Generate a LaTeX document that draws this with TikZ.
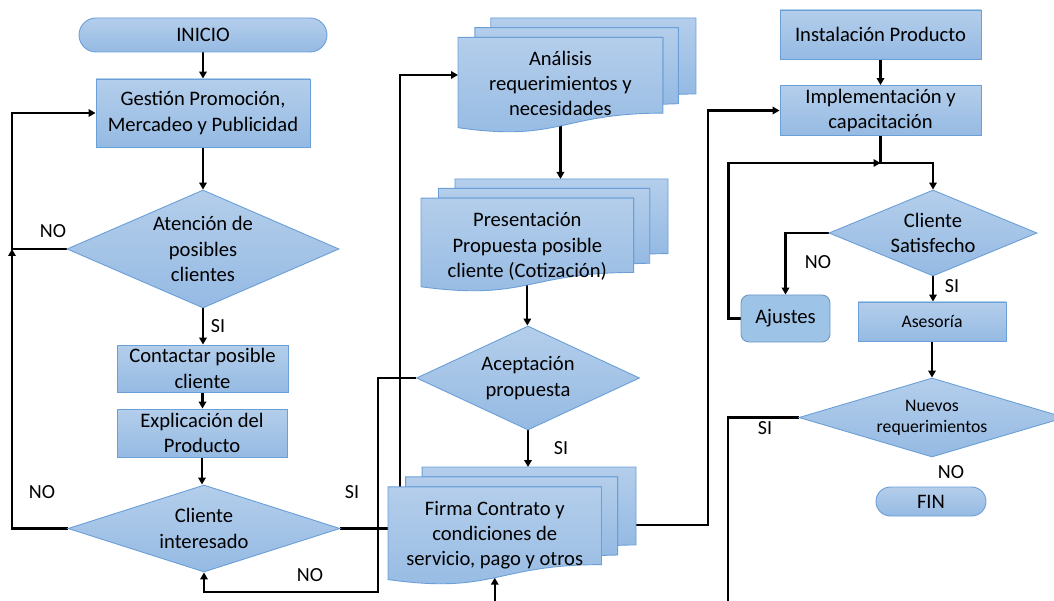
\documentclass[tikz,border=0pt]{standalone}
\usepackage{fontspec}
\setmainfont{Carlito}
\usetikzlibrary{shapes.geometric,arrows.meta,calc}
\definecolor{topc}{HTML}{B4CEEB}
\definecolor{botc}{HTML}{95BAE3}
\definecolor{bord}{HTML}{6A9FD8}
\definecolor{ajfill}{HTML}{9DC3E6}
\definecolor{ajbord}{HTML}{6F98C4}
\pgfdeclarelayer{bg}
\pgfsetlayers{bg,main}
\tikzset{
  base/.style={font=\fontsize{20.6}{25.3}\selectfont, align=center, inner sep=0pt},
  small/.style={font=\fontsize{17.7}{21.5}\selectfont},
  proc/.style={base, rectangle, draw=bord, line width=0.9pt, top color=topc, bottom color=botc},
  term/.style={proc, rounded corners=#1},
  dec/.style={base, diamond, draw=bord, line width=0.9pt, top color=topc, bottom color=botc},
  sheet/.style={draw=bord, line width=0.9pt, top color=topc, bottom color=botc},
  adj/.style={base, rectangle, rounded corners=8pt, draw=ajbord, line width=0.9pt, fill=ajfill},
  lbl/.style={font=\fontsize{20}{24}\selectfont, inner sep=0pt},
  conn/.style={draw=black, line width=2.3pt},
  arr/.style={conn, -{Triangle[length=7pt,width=7.5pt]}}
}
\newcommand\mdoc[7]{%
  \pgfmathsetmacro\mdsx{#4/216}\pgfmathsetmacro\mdsy{#5/216}%
  \begin{scope}[shift={(#2,#3)}, xscale=\mdsx, yscale=\mdsy]
    \path[sheet] (29.72,18.15) -- (29.72,0) -- (216,0) -- (216,143.92) .. controls (208,143.92) and (200,144.67) .. (200,144.67) -- (200,18.15) -- cycle;
    \path[sheet] (15.32,36.75) -- (15.32,18.15) -- (200,18.15) -- (200,162.52) .. controls (192.98,162.52) and (185.95,163.52) .. (185.95,163.52) -- (185.95,36.75) -- cycle;
    \path[sheet] (0,207.82) .. controls (92.98,235.42) and (92.98,180.22) .. (185.95,180.22) -- (185.95,36.75) -- (0,36.75) -- cycle;
    \coordinate (#1-n) at (92.98,0);
    \coordinate (#1-s) at (92.98,204.4);
    \coordinate (#1-w) at (0,108);
    \coordinate (#1-e) at (216,107);
    \node[base] (#1) at (92.98,#6) {#7};
  \end{scope}}
\begin{document}
\begin{tikzpicture}[x=1pt,y=-1pt]
\useasboundingbox (0,0) rectangle (1054,601);
\clip (0,0) rectangle (1054,601);
\begin{pgfonlayer}{bg}
  \fill[white] (0,0) rectangle (1054,601);
\end{pgfonlayer}

% left column
\node[term=17pt, minimum width=248, minimum height=34] (inicio) at (203,35) {INICIO};
\node[proc, minimum width=214, minimum height=68] (gest) at (203,113) {Gestión Promoción,\\Mercadeo y Publicidad};
\node[dec, aspect=2.3, minimum width=272, minimum height=118] (aten) at (203,249) {Atención de\\posibles\\clientes};
\node[proc, minimum width=171, minimum height=47] (cont) at (202.5,368.5) {Contactar posible\\cliente};
\node[proc, minimum width=170, minimum height=48] (expl) at (202,433) {Explicación del\\Producto};
\node[dec, aspect=3.1, minimum width=272, minimum height=87] (ci) at (204,528.5) {Cliente\\interesado};

% middle column
\mdoc{ana}{458}{18}{238}{114}{124}{Análisis\\requerimientos y\\necesidades}
\mdoc{pres}{421}{179}{247}{112}{130}{Presentación\\Propuesta posible\\cliente (Cotización)}
\node[dec, aspect=2.15, minimum width=223, minimum height=104] (acep) at (528,378) {Aceptación\\propuesta};
\mdoc{firma}{388}{467}{248}{117}{126}{Firma Contrato y\\condiciones de\\servicio, pago y otros}

% right column
\node[proc, minimum width=201, minimum height=49] (inst) at (880.5,34.5) {Instalación Producto};
\node[proc, minimum width=201, minimum height=50] (impl) at (880.5,110.5) {Implementación y\\capacitación};
\node[dec, aspect=2.4, minimum width=208, minimum height=86] (sat) at (933,233) {Cliente\\Satisfecho};
\node[adj, minimum width=89, minimum height=47] (ajus) at (785.5,318.5) {Ajustes};
\node[proc, small, minimum width=148, minimum height=39] (ases) at (932,321.5) {Asesoría};
\node[dec, small, aspect=3.3, minimum width=266, minimum height=79] (nuev) at (932,417.5) {Nuevos\\requerimientos};
\node[term=14.5pt, minimum width=110, minimum height=29] (fin) at (931,501.5) {FIN};

% labels
\node[lbl] (l1) at (53,231) {NO};
\node[lbl] (l2) at (218,326) {SI};
\node[lbl] (l3) at (42,492) {NO};
\node[lbl] (l4) at (352,492) {SI};
\node[lbl] (l5) at (310,575) {NO};
\node[lbl] (l6) at (561,448) {SI};
\node[lbl] (l7) at (818,262) {NO};
\node[lbl] (l8) at (952,286) {SI};
\node[lbl] (l9) at (765,428) {SI};
\node[lbl] (l10) at (951,472) {NO};

% helper coordinates
\coordinate (lx) at (12,0);
\coordinate (nx) at (378,592);
\coordinate (rx) at (708,0);
\coordinate (jy) at (0,163);
\coordinate (bot) at (0,601);
\coordinate (sitail) at (728,601);

\begin{pgfonlayer}{bg}
  \draw[arr] (inicio.south) -- (gest.north);
  \draw[arr] (gest.south) -- (aten.north);
  \draw[arr] (aten.west) -- (aten.west -| lx) |- (gest.west);
  \draw[arr] (ci.west) -| (aten.west -| lx);
  \draw[arr] (aten.south) -- (aten.south |- cont.north);
  \draw[arr] (cont.south) -- (cont.south |- expl.north);
  \draw[arr] (expl.south) -- (expl.south |- ci.north);
  \draw[conn] (ci.east) -- (ci.east -| firma-w);
  \draw[arr] (acep.west) -- (acep.west -| nx) |- (ci.south |- nx) -- (ci.south);
  \draw[arr] ($(firma-w)+(12,0)$) |- (ana-w);
  \draw[arr] (ana-s) -- (ana-s |- pres-n);
  \draw[arr] (pres-s) -- (pres-s |- acep.north);
  \draw[arr] (acep.south) -- (acep.south |- firma-n);
  \draw[arr] (firma-s |- bot) -- (firma-s);
  \draw[arr] (firma-e) -- (firma-e -| rx) |- (impl.west);
  \draw[arr] (inst.south) -- (impl.north);
  \draw[arr] (impl.south) -- (impl.south |- jy) -| (sat.north);
  \draw[arr] (ajus.west) -- ++(-12,0) |- (impl.south |- jy);
  \draw[arr] (sat.west) -| (ajus.north);
  \draw[arr] (sat.south) -- (sat.south |- ases.north);
  \draw[arr] (ases.south) -- (ases.south |- nuev.north);
  \draw[conn] (nuev.west) -| (sitail);
\end{pgfonlayer}
\end{tikzpicture}
\end{document}
